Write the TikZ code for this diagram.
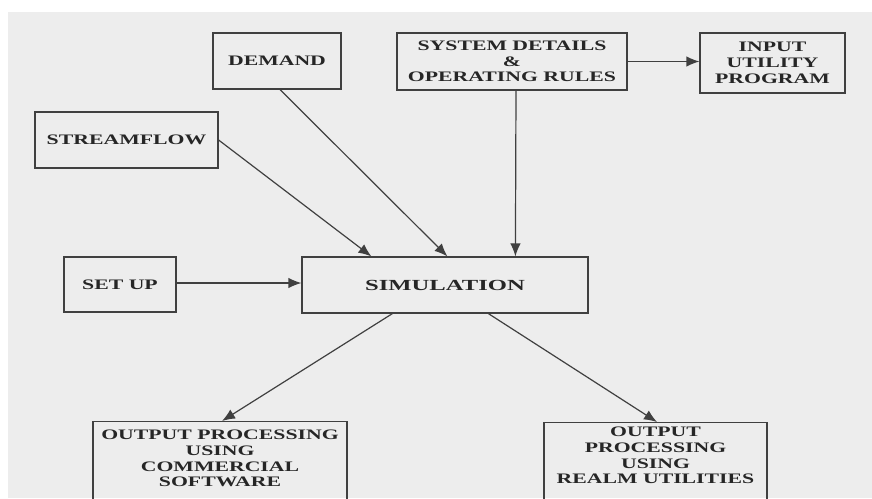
\documentclass[tikz,border=0pt]{standalone}
\usepackage{fontspec}
\usetikzlibrary{arrows.meta,calc}
\newfontfamily\lab{Liberation Serif}[FakeStretch=1.5]
\newfontfamily\simlab{Liberation Serif}[FakeStretch=1.6]
\definecolor{paper}{HTML}{EDEDED}
\definecolor{ink}{HTML}{262626}
\definecolor{rule}{HTML}{404040}
\begin{document}
\begin{tikzpicture}[x=1pt,y=-1pt,
  box/.style={draw=rule, line width=1.2pt, fill=none, inner sep=0pt, text=ink,
    font=\lab\bfseries\fontsize{14.5}{15.7}\selectfont, align=center},
  txt/.style={inner sep=0pt, text=ink, align=center,
    font=\lab\bfseries\fontsize{14.5}{15.6}\selectfont},
  flow/.style={draw=rule, line width=1.2pt,
    -{Latex[length=13pt,width=10.5pt]}}]
  % page and paper
  \useasboundingbox (0,0) rectangle (872,498);
  \fill[white] (0,0) rectangle (872,498);
  \fill[paper] (8,12) rectangle (872,498);
  \clip (0,0) rectangle (872,498);

  % input boxes
  \node[box, minimum width=128, minimum height=56] (demand) at (277,61) {DEMAND};
  \node[box, minimum width=230, minimum height=57] (sys) at (512,61.5)
    {SYSTEM DETAILS\\\&\\OPERATING RULES};
  \node[box, minimum width=145, minimum height=60] (input) at (772.5,63)
    {INPUT\\UTILITY\\PROGRAM};
  \node[box, minimum width=183, minimum height=56] (stream) at (126.5,140) {STREAMFLOW};
  \node[box, minimum width=112, minimum height=55] (setup) at (120,284.5) {SET UP};
  \node[box, minimum width=286, minimum height=56,
    font=\simlab\bfseries\fontsize{15.4}{17}\selectfont] (sim) at (445,285) {SIMULATION};

  % output boxes (they run off the bottom of the page)
  \node[box, anchor=north, minimum width=254, minimum height=90] (cbox) at (220,421) {};
  \node[txt, anchor=north] (ctext) at ([yshift=-9pt]cbox.north)
    {OUTPUT PROCESSING\\USING\\COMMERCIAL\\SOFTWARE};
  \node[box, anchor=north, minimum width=223, minimum height=90] (rbox) at (655.5,422) {};
  \node[txt, anchor=north] (rtext) at ([yshift=-5pt]rbox.north)
    {OUTPUT\\PROCESSING\\USING\\REALM UTILITIES};

  % connectors
  \draw[flow] (sys.east) -- (sys.east -| input.west);
  \draw[flow] ([xshift=3pt]demand.south) -- ($(sim.north west)+(146,0)$);
  \draw[flow] (stream.east) -- ($(sim.north west)+(70,0)$);
  \draw[flow] ([xshift=4pt]sys.south) -- ($(sim.north west)+(214,0)$);
  \draw[flow] ([yshift=1.5pt]setup.east) -- ([yshift=1.5pt]setup.east -| sim.west);
  \draw[flow] ($(sim.south west)+(91,0)$) -- ([xshift=2pt]cbox.north);
  \draw[flow] ($(sim.south west)+(187,0)$) -- ([xshift=1.5pt]rbox.north);
\end{tikzpicture}
\end{document}
